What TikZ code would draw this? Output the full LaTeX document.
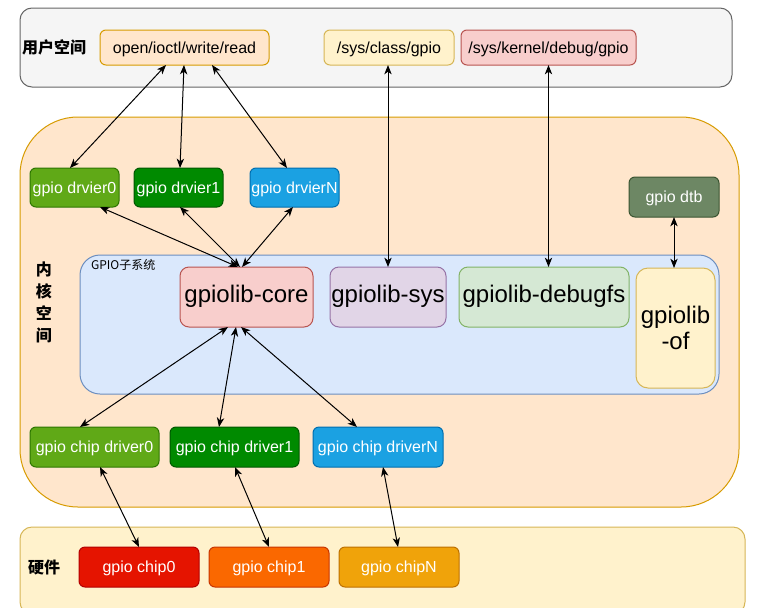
\documentclass[tikz,border=0pt]{standalone}
\usepackage{fontspec}
\setmainfont{Liberation Sans}
\newfontfamily\cjk{Noto Sans CJK SC}
\usetikzlibrary{calc,arrows.meta}
\definecolor{usrfill}{HTML}{F5F5F5}\definecolor{usrline}{HTML}{666666}
\definecolor{orfill}{HTML}{FFE6CC}\definecolor{orline}{HTML}{D79B00}
\definecolor{yefill}{HTML}{FFF2CC}\definecolor{yeline}{HTML}{D6B656}
\definecolor{refill}{HTML}{F8CECC}\definecolor{reline}{HTML}{B85450}
\definecolor{pufill}{HTML}{E1D5E7}\definecolor{puline}{HTML}{9673A6}
\definecolor{grfill}{HTML}{D5E8D4}\definecolor{grline}{HTML}{82B366}
\definecolor{blfill}{HTML}{DAE8FC}\definecolor{blline}{HTML}{6C8EBF}
\definecolor{limefill}{HTML}{60A917}\definecolor{limeline}{HTML}{2D7600}
\definecolor{dgfill}{HTML}{008A00}\definecolor{dgline}{HTML}{005700}
\definecolor{cyfill}{HTML}{1BA1E2}\definecolor{cyline}{HTML}{006EAF}
\definecolor{olfill}{HTML}{6D8764}\definecolor{olline}{HTML}{3A5431}
\definecolor{rdfill}{HTML}{E51400}\definecolor{rdline}{HTML}{B20000}
\definecolor{ofill}{HTML}{FA6800}\definecolor{oline}{HTML}{C73500}
\definecolor{amfill}{HTML}{F0A30A}\definecolor{amline}{HTML}{BD7000}
\begin{document}
\begin{tikzpicture}[x=0.75pt,y=-0.75pt,
  every node/.style={inner sep=0pt, outer sep=0pt},
  sz/.style 2 args={minimum width=#1*0.75pt, minimum height=#2*0.75pt},
  area/.style={draw, line width=0.75pt},
  small/.style={draw, line width=0.75pt, rounded corners=4.5pt, font=\fontsize{12}{14}\selectfont, text height=1em, text depth=0.15em},
  lib/.style={draw, line width=0.75pt, rounded corners=6.75pt, font=\fontsize{18}{20}\selectfont, text height=1em, text depth=0.15em},
  wtxt/.style={small, text=white},
  lbl/.style={font=\cjk\bfseries\fontsize{12}{14}\selectfont},
  link/.style={line width=0.75pt, {Stealth[length=7pt,width=5.5pt,inset=2pt]}-{Stealth[length=7pt,width=5.5pt,inset=2pt]}}
]
\useasboundingbox (0,0) rectangle (760,607);
% areas
\node[area, fill=usrfill, draw=usrline, rounded corners=9pt, sz={712}{79}] (user) at (376,47.5) {};
\node[area, fill=orfill, draw=orline, rounded corners=43.5pt, sz={719}{390}] (kernel) at (379.5,312) {};
\node[area, fill=yefill, draw=yeline, rounded corners=9pt, sz={725}{87}] (hw) at (382.5,570.5) {};
\node[area, fill=blfill, draw=blline, rounded corners=15pt, sz={639}{139}] (subsys) at (399.5,324.5) {};
% labels
\node[lbl] (ulbl) at (54,47) {用户空间};
\node[lbl, align=center, font=\cjk\bfseries\fontsize{12}{16.5}\selectfont] (klbl) at (44,302) {内\\核\\空\\间};
\node[lbl] (hlbl) at (44,567) {硬件};
\node[anchor=west, font=\cjk\fontsize{9}{11}\selectfont] (slbl) at (91,265) {GPIO子系统};
% user space boxes
\node[small, fill=orfill, draw=orline, sz={169}{35}] (open) at (184.5,47.5) {open/ioctl/write/read};
\node[small, fill=yefill, draw=yeline, sz={130}{35}] (sysclass) at (389,47.5) {/sys/class/gpio};
\node[small, fill=refill, draw=reline, sz={175}{35}] (debug) at (548.5,47.5) {/sys/kernel/debug/gpio};
% drivers
\node[wtxt, fill=limefill, draw=limeline, sz={89}{39}] (drv0) at (74.5,187.5) {gpio drvier0};
\node[wtxt, fill=dgfill, draw=dgline, sz={89}{39}] (drv1) at (178.5,187.5) {gpio drvier1};
\node[wtxt, fill=cyfill, draw=cyline, sz={89}{39}] (drvN) at (294.5,187.5) {gpio drvierN};
\node[wtxt, fill=olfill, draw=olline, sz={90}{40}] (dtb) at (674,197) {gpio dtb};
% gpiolib
\node[lib, fill=refill, draw=reline, sz={133}{60}] (core) at (246.5,297) {gpiolib-core};
\node[lib, fill=pufill, draw=puline, sz={116}{60}] (sys) at (388,297) {gpiolib-sys};
\node[lib, fill=grfill, draw=grline, sz={170}{60}] (dbgfs) at (544,297) {gpiolib-debugfs};
\node[draw, line width=0.75pt, fill=yefill, draw=yeline, rounded corners=9pt, align=center, font=\fontsize{18}{19.5}\selectfont, sz={79}{120}] (of) at (675.5,328) {gpiolib\\-of};
% chip drivers
\node[wtxt, fill=limefill, draw=limeline, sz={129}{40}] (cd0) at (94.5,447) {gpio chip driver0};
\node[wtxt, fill=dgfill, draw=dgline, sz={129}{40}] (cd1) at (234.5,447) {gpio chip driver1};
\node[wtxt, fill=cyfill, draw=cyline, sz={130}{40}] (cdN) at (378,447) {gpio chip driverN};
% chips
\node[wtxt, fill=rdfill, draw=rdline, sz={120}{40}] (chip0) at (139,567) {gpio chip0};
\node[wtxt, fill=ofill, draw=oline, sz={120}{40}] (chip1) at (269,567) {gpio chip1};
\node[wtxt, fill=amfill, draw=amline, sz={120}{40}] (chipN) at (399,567) {gpio chipN};
% connectors
\draw[link] ($(open.south)+(-18.5,0)$) -- ($(drv0.north)+(-4.5,0)$);
\draw[link] ($(open.south)+(-0.5,0)$) -- ($(drv1.north)+(1.5,0)$);
\draw[link] ($(open.south)+(27.5,0)$) -- ($(drvN.north)+(-7.5,0)$);
\draw[link] ($(sysclass.south)+(-1,0)$) -- (sys.north);
\draw[link] (debug.south) -- (dbgfs.north -| debug.south);
\draw[link] (dtb.south) -- (of.north -| dtb.south);
\draw[link] ($(drv0.south)+(25.5,0)$) -- ($(core.north)+(-8.5,0)$);
\draw[link] ($(drv1.south)+(1.5,0)$) -- ($(core.north)+(-6.5,0)$);
\draw[link] ($(drvN.south)+(-1.5,0)$) -- ($(core.north)+(-4.5,0)$);
\draw[link] ($(core.south)+(-18.5,0)$) -- ($(cd0.north)+(-14.5,0)$);
\draw[link] ($(core.south)+(-10.5,0)$) -- ($(cd1.north)+(-15.5,0)$);
\draw[link] ($(core.south)+(-5.5,0)$) -- ($(cdN.north)+(-21,0)$);
\draw[link] ($(cd0.south)+(5.5,0)$) -- (chip0.north);
\draw[link] ($(cd1.south)+(0.5,0)$) -- (chip1.north);
\draw[link] ($(cdN.south)+(5,0)$) -- ($(chipN.north)+(-1,0)$);
\end{tikzpicture}
\end{document}
